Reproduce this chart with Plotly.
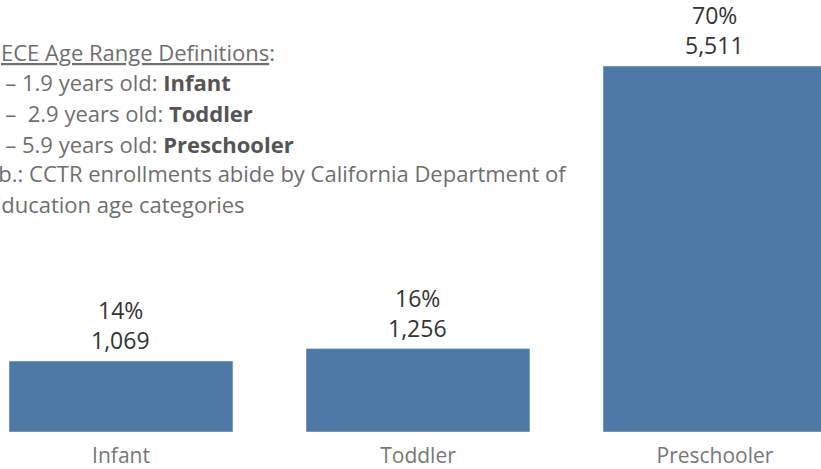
import plotly.graph_objects as go

categories = ["Infant", "Toddler", "Preschooler"]
counts = [1069, 1256, 5511]
percents = ["14%", "16%", "70%"]

note_lines = [
    "<u>ECE Age Range Definitions</u>:",
    "0 – 1.9 years old: <b>Infant</b>",
    "2 –\u00a0 2.9 years old: <b>Toddler</b>",
    "3 – 5.9 years old: <b>Preschooler</b>",
    "N.b.: CCTR enrollments abide by California Department of",
    "Education age categories",
]
note_x_px = [-1, -15, -15, -15, -26, -13]
note_y_px = [52, 82, 113, 144, 173, 204]

W, H = 821, 469
PLOT_BOTTOM = 432
FONT = "Open Sans"

fig = go.Figure(go.Bar(
    x=categories, y=counts, marker_color="#4e79a7", width=0.754,
    hoverinfo="skip",
))

ann = []
for c, v, p in zip(categories, counts, percents):
    ann.append(dict(x=c, y=v, text=f"{v:,}", showarrow=False, yanchor="bottom",
                    yshift=3, font=dict(family=FONT, size=23, color="#333333")))
    ann.append(dict(x=c, y=v, text=p, showarrow=False, yanchor="bottom",
                    yshift=33, font=dict(family=FONT, size=23, color="#333333")))
for t, xp, yp in zip(note_lines, note_x_px, note_y_px):
    t = t.replace("<b>", "<b><span style='color:#555555'>").replace("</b>", "</span></b>")
    ann.append(dict(xref="paper", yref="paper", x=xp / W, y=(PLOT_BOTTOM - yp) / PLOT_BOTTOM,
                    xanchor="left", yanchor="middle", text=t, showarrow=False, align="left",
                    font=dict(family=FONT, size=22, color="#6e6e6e")))

fig.update_layout(
    width=W, height=H,
    margin=dict(l=0, r=0, t=0, b=H - PLOT_BOTTOM, pad=0),
    plot_bgcolor="white", paper_bgcolor="white",
    showlegend=False,
    annotations=ann,
    xaxis=dict(type="category", range=[-0.4074, 2.357], showgrid=False, showline=False,
               zeroline=False, ticks="", ticklabelstandoff=9,
               tickfont=dict(family=FONT, size=21, color="#777777")),
    yaxis=dict(range=[0, 6505], visible=False, showgrid=False, zeroline=False),
)

fig.write_html("out.html", config={"displayModeBar": False},
               post_script="document.body.style.margin='0';document.body.style.overflow='hidden';")
